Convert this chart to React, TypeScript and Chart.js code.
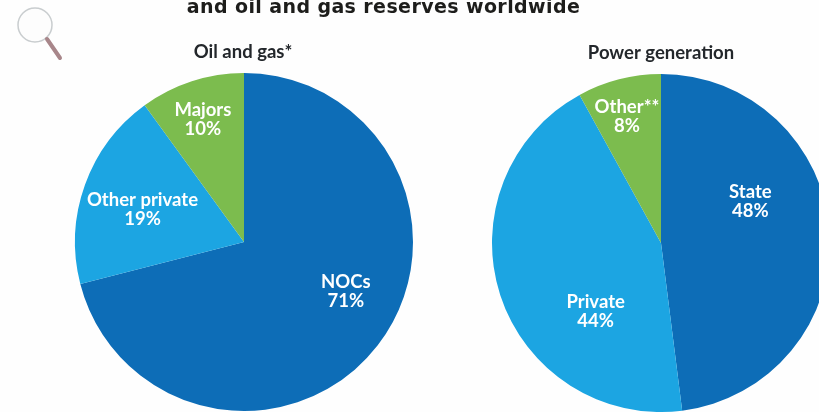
import React, { useEffect, useRef } from "react";
import { Chart, registerables } from "chart.js";

Chart.register(...registerables);

const oilGasLabels = ["NOCs", "Other private", "Majors"];
const oilGasValues = [71, 19, 10];
const powerLabels = ["State", "Private", "Other**"];
const powerValues = [48, 44, 8];
const sliceColors = ["#0d6db7", "#1ca5e2", "#7cbc4e"];

const FONT = "Lato, 'Open Sans', sans-serif";

type PieProps = {
  heading: string;
  headingX: number;
  headingY: number;
  labels: string[];
  values: number[];
  labelOffsets: [number, number][];
  left: number;
  width: number;
  padding: { left: number; right: number; top: number; bottom: number };
};

// Draws the heading above the pie and the white name/percent pair inside each slice.
const annotate = {
  id: "annotate",
  afterDatasetsDraw(chart: any, _args: any, opts: any) {
    const { ctx } = chart;
    ctx.save();
    ctx.textAlign = "center";
    ctx.textBaseline = "middle";
    ctx.fillStyle = "#23272b";
    ctx.font = `700 18.5px ${FONT}`;
    ctx.fillText(opts.heading, opts.headingX, opts.headingY);
    ctx.fillStyle = "#ffffff";
    ctx.font = `700 18.5px ${FONT}`;
    const values = chart.data.datasets[0].data;
    chart.getDatasetMeta(0).data.forEach((arc: any, i: number) => {
      const p = arc.tooltipPosition();
      const [dx, dy] = opts.labelOffsets[i];
      ctx.fillText(chart.data.labels[i], p.x + dx, p.y + dy - 9.5);
      ctx.fillText(`${values[i]}%`, p.x + dx, p.y + dy + 9.5);
    });
    ctx.restore();
  },
};

function Pie(props: PieProps) {
  const ref = useRef<HTMLCanvasElement>(null);
  useEffect(() => {
    const chart = new Chart(ref.current!, {
      type: "pie",
      plugins: [annotate],
      data: {
        labels: props.labels,
        datasets: [
          {
            data: props.values,
            backgroundColor: sliceColors,
            borderWidth: 0,
          },
        ],
      },
      options: {
        responsive: false,
        animation: false,
        layout: { padding: props.padding },
        plugins: {
          legend: { display: false },
          tooltip: { enabled: false },
          annotate: {
            heading: props.heading,
            headingX: props.headingX,
            headingY: props.headingY,
            labelOffsets: props.labelOffsets,
          },
        },
      } as any,
    });
    return () => chart.destroy();
  }, []);
  return (
    <canvas
      ref={ref}
      width={props.width}
      height={412}
      style={{ position: "absolute", left: props.left, top: 0, width: props.width, height: 412 }}
    />
  );
}

export default function App() {
  useEffect(() => {
    document.body.style.margin = "0";
  }, []);
  return (
    <div style={{ position: "relative", width: 819, height: 412, overflow: "hidden", background: "#fefefe" }}>
      <Pie
        heading="Oil and gas*"
        headingX={243}
        headingY={52}
        labels={oilGasLabels}
        values={oilGasValues}
        labelOffsets={[[35, -2.5], [-22, -4], [-15, -42]]}
        left={0}
        width={450}
        padding={{ left: 75, right: 37, top: 73, bottom: 1 }}
      />
      <Pie
        heading="Power generation"
        headingX={211}
        headingY={53}
        labels={powerLabels}
        values={powerValues}
        labelOffsets={[[5, -36], [15, 42], [-13, -45]]}
        left={450}
        width={450}
        padding={{ left: 42, right: 70, top: 74, bottom: 0 }}
      />
      <div
        style={{
          position: "absolute",
          left: 0,
          width: 767,
          top: -5,
          textAlign: "center",
          font: "700 19px 'DejaVu Sans', sans-serif",
          color: "#1d1d1b",
          letterSpacing: 0.4,
          whiteSpace: "nowrap",
        }}
      >
        and oil and gas reserves worldwide
      </div>
      <svg width={70} height={70} style={{ position: "absolute", left: 0, top: 0 }}>
        <circle cx={35} cy={25} r={17} fill="#fdfdfd" stroke="#c9cdcf" strokeWidth={1.5} />
        <line x1={47} y1={39} x2={60} y2={58} stroke="#a8868a" strokeWidth={4} strokeLinecap="round" />
      </svg>
    </div>
  );
}
